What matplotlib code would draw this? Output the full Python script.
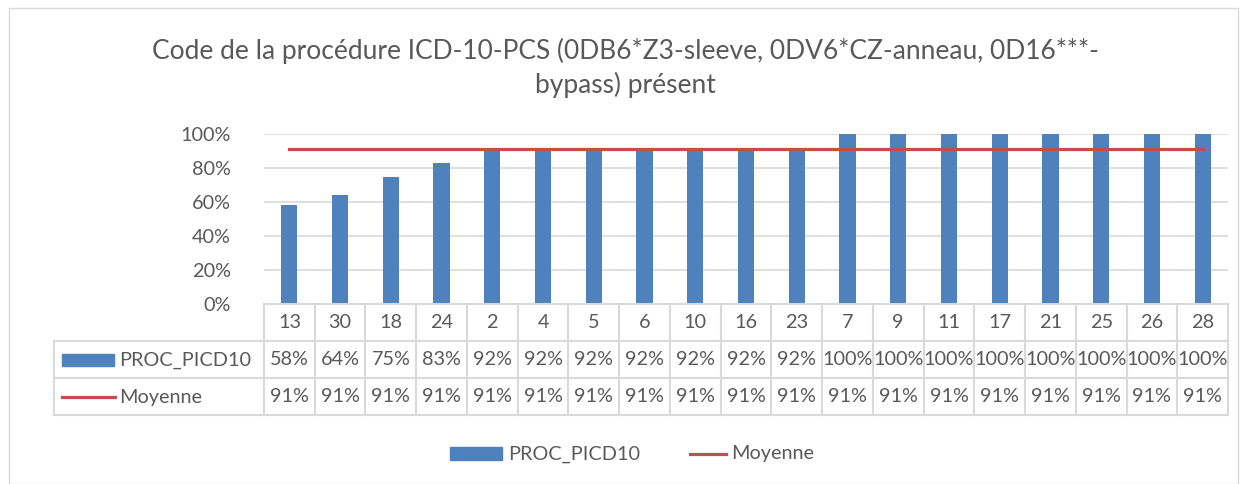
import matplotlib.pyplot as plt
from matplotlib.patches import Rectangle
from matplotlib.lines import Line2D
import matplotlib.transforms as mtransforms

categories = ['13', '30', '18', '24', '2', '4', '5', '6', '10', '16', '23',
              '7', '9', '11', '17', '21', '25', '26', '28']
proc_picd10 = [0.58, 0.64, 0.75, 0.83, 0.92, 0.92, 0.92, 0.92, 0.92, 0.92, 0.92,
               1.00, 1.00, 1.00, 1.00, 1.00, 1.00, 1.00, 1.00]
moyenne = [0.91] * 19
yticks = [0, 0.2, 0.4, 0.6, 0.8, 1.0]

BLUE = '#4F81BD'
RED = '#C0504D'
TXT = '#595959'
GRID = '#D9D9D9'
FS = 14.3

plt.rcParams['font.family'] = ['Lato', 'DejaVu Sans']

W, H = 1246, 484
fig = plt.figure(figsize=(W / 100, H / 100), dpi=100)

# outer frame
fig.patches.append(Rectangle((9 / W, 0), (1238 - 9) / W, (H - 8) / H, transform=fig.transFigure,
                             fill=False, edgecolor=GRID, lw=1))

left, right, top, bottom = 264, 1228, 134, 304
ax = fig.add_axes([left / W, 1 - bottom / H, (right - left) / W, (bottom - top) / H])
x = list(range(len(categories)))
ax.bar(x, proc_picd10, width=0.32, color=BLUE, zorder=2)
ax.plot(x, moyenne, color=RED, lw=2.3, zorder=3)
ax.set_xlim(-0.5, len(categories) - 0.5)
ax.set_ylim(0, 1)
ax.set_yticks(yticks)
ax.set_yticklabels([f'{int(round(v * 100))}%' for v in yticks], color=TXT, fontsize=FS)
ax.yaxis.grid(True, color=GRID, lw=1.2, zorder=0)
ax.set_xticks([])
ax.tick_params(axis='y', length=0, pad=24)
for s in ax.spines.values():
    s.set_visible(False)

# data table below the plot
row_h = 37 / (bottom - top)
trans = mtransforms.blended_transform_factory(ax.transData, ax.transAxes)
ftrans = mtransforms.blended_transform_factory(fig.transFigure, ax.transAxes)
n = len(categories)
lab_left = 54 / W
x0, x1 = -0.5, n - 0.5

def hline(y, full):
    ax.add_line(Line2D([x0, x1], [y, y], transform=trans, color=GRID, lw=1.5, clip_on=False))
    if full:
        fig.add_artist(Line2D([lab_left, left / W], [y, y], transform=ftrans, color=GRID, lw=1.5))

hline(0, False)
hline(-row_h, True)
hline(-2 * row_h, True)
hline(-3 * row_h, True)
for i in range(n + 1):
    xv = i - 0.5
    ax.add_line(Line2D([xv, xv], [0, -3 * row_h], transform=trans, color=GRID, lw=1.5, clip_on=False))
fig.add_artist(Line2D([lab_left, lab_left], [-row_h, -3 * row_h], transform=ftrans, color=GRID, lw=1.5))

for i, c in enumerate(categories):
    ax.text(i, -0.5 * row_h, c, transform=trans, ha='center', va='center', color=TXT, fontsize=FS)
    ax.text(i, -1.5 * row_h, f'{int(round(proc_picd10[i] * 100))}%', transform=trans,
            ha='center', va='center', color=TXT, fontsize=FS)
    ax.text(i, -2.5 * row_h, f'{int(round(moyenne[i] * 100))}%', transform=trans,
            ha='center', va='center', color=TXT, fontsize=FS)

# legend keys inside the table
fig.patches.append(Rectangle((62 / W, 1 - 366 / H), 52 / W, 12 / H, transform=fig.transFigure,
                             color=BLUE))
fig.text(119 / W, 1 - 360 / H, 'PROC_PICD10', ha='left', va='center', color=TXT, fontsize=FS)
fig.add_artist(Line2D([62 / W, 115 / W], [1 - 397 / H, 1 - 397 / H], color=RED, lw=2.3))
fig.text(119 / W, 1 - 397 / H, 'Moyenne', ha='left', va='center', color=TXT, fontsize=FS)

# bottom legend
fig.patches.append(Rectangle((450 / W, 1 - 460 / H), 52 / W, 13 / H, transform=fig.transFigure,
                             color=BLUE))
fig.text(508 / W, 1 - 454 / H, 'PROC_PICD10', ha='left', va='center', color=TXT, fontsize=FS)
fig.add_artist(Line2D([690 / W, 726 / W], [1 - 454 / H, 1 - 454 / H], color=RED, lw=2.3))
fig.text(731 / W, 1 - 454 / H, 'Moyenne', ha='left', va='center', color=TXT, fontsize=FS)

fig.text(625 / W, 1 - 68 / H,
         'Code de la procédure ICD-10-PCS (0DB6*Z3-sleeve, 0DV6*CZ-anneau, 0D16***-\nbypass) présent',
         ha='center', va='center', color=TXT, fontsize=19, linespacing=1.4)

fig.savefig('out.png', dpi=100)
